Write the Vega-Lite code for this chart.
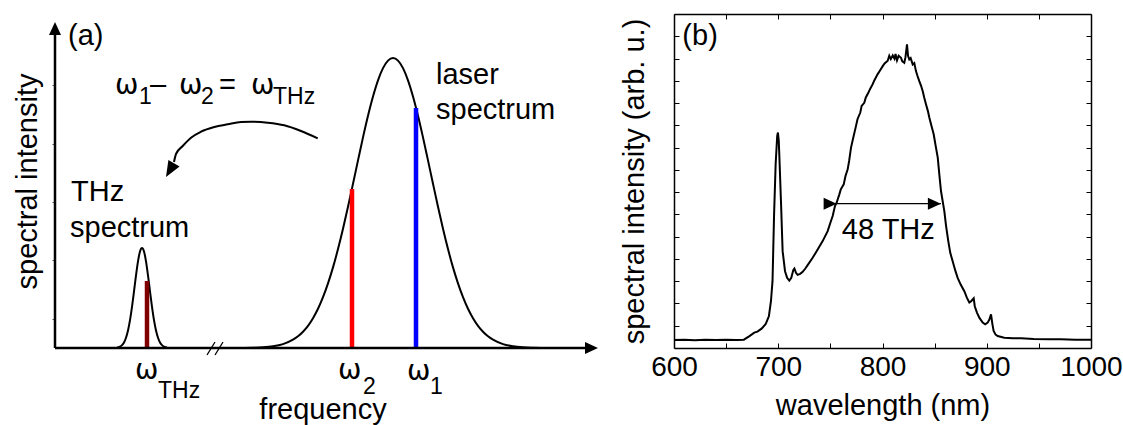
{
  "$schema": "https://vega.github.io/schema/vega-lite/v6.json",
  "padding": {"left": 13, "top": 13, "right": 0, "bottom": 0},
  "spacing": 22,
  "config": {
    "font": "Liberation Sans",
    "view": {"stroke": null},
    "axis": {"labelFont": "Liberation Sans", "titleFont": "Liberation Sans", "titleFontWeight": "normal", "labelColor": "black", "titleColor": "black", "domainColor": "black", "tickColor": "black", "grid": false}
  },
  "datasets": {
    "curves": [
      {"f": 62, "i": 0.4, "c": "thz"}, {"f": 65, "i": 1.4, "c": "thz"}, {"f": 67, "i": 2.9, "c": "thz"}, {"f": 69, "i": 5.6, "c": "thz"},
      {"f": 71, "i": 10.3, "c": "thz"}, {"f": 73, "i": 17.5, "c": "thz"}, {"f": 75, "i": 27.8, "c": "thz"}, {"f": 77, "i": 41.1, "c": "thz"},
      {"f": 79, "i": 56.6, "c": "thz"}, {"f": 81, "i": 72.6, "c": "thz"}, {"f": 83, "i": 86.7, "c": "thz"}, {"f": 85, "i": 96.5, "c": "thz"},
      {"f": 87, "i": 100, "c": "thz"}, {"f": 89, "i": 96.5, "c": "thz"}, {"f": 91, "i": 86.7, "c": "thz"}, {"f": 93, "i": 72.6, "c": "thz"},
      {"f": 95, "i": 56.6, "c": "thz"}, {"f": 97, "i": 41.1, "c": "thz"}, {"f": 99, "i": 27.8, "c": "thz"}, {"f": 101, "i": 17.5, "c": "thz"},
      {"f": 103, "i": 10.3, "c": "thz"}, {"f": 105, "i": 5.6, "c": "thz"}, {"f": 107, "i": 2.9, "c": "thz"}, {"f": 109, "i": 1.4, "c": "thz"},
      {"f": 112, "i": 0.4, "c": "thz"},
      {"f": 178, "i": 0, "c": "laser"}, {"f": 198, "i": 0.3, "c": "laser"}, {"f": 208, "i": 0.7, "c": "laser"}, {"f": 218, "i": 1.7, "c": "laser"},
      {"f": 228, "i": 3.9, "c": "laser"}, {"f": 238, "i": 8.3, "c": "laser"}, {"f": 243, "i": 11.7, "c": "laser"}, {"f": 248, "i": 16.3, "c": "laser"},
      {"f": 253, "i": 22.2, "c": "laser"}, {"f": 258, "i": 29.8, "c": "laser"}, {"f": 263, "i": 39.2, "c": "laser"}, {"f": 268, "i": 50.8, "c": "laser"},
      {"f": 273, "i": 64.6, "c": "laser"}, {"f": 278, "i": 80.6, "c": "laser"}, {"f": 283, "i": 98.9, "c": "laser"}, {"f": 288, "i": 119.2, "c": "laser"},
      {"f": 293, "i": 141.2, "c": "laser"}, {"f": 298, "i": 164.2, "c": "laser"}, {"f": 303, "i": 187.6, "c": "laser"}, {"f": 308, "i": 210.6, "c": "laser"},
      {"f": 313, "i": 232.2, "c": "laser"}, {"f": 318, "i": 251.5, "c": "laser"}, {"f": 323, "i": 267.7, "c": "laser"}, {"f": 328, "i": 279.9, "c": "laser"},
      {"f": 333, "i": 287.4, "c": "laser"}, {"f": 338, "i": 290, "c": "laser"}, {"f": 343, "i": 287.4, "c": "laser"}, {"f": 348, "i": 279.9, "c": "laser"},
      {"f": 353, "i": 267.7, "c": "laser"}, {"f": 358, "i": 251.5, "c": "laser"}, {"f": 363, "i": 232.2, "c": "laser"}, {"f": 368, "i": 210.6, "c": "laser"},
      {"f": 373, "i": 187.6, "c": "laser"}, {"f": 378, "i": 164.2, "c": "laser"}, {"f": 383, "i": 141.2, "c": "laser"}, {"f": 388, "i": 119.2, "c": "laser"},
      {"f": 393, "i": 98.9, "c": "laser"}, {"f": 398, "i": 80.6, "c": "laser"}, {"f": 403, "i": 64.6, "c": "laser"}, {"f": 408, "i": 50.8, "c": "laser"},
      {"f": 413, "i": 39.2, "c": "laser"}, {"f": 418, "i": 29.8, "c": "laser"}, {"f": 423, "i": 22.2, "c": "laser"}, {"f": 428, "i": 16.3, "c": "laser"},
      {"f": 433, "i": 11.7, "c": "laser"}, {"f": 438, "i": 8.3, "c": "laser"}, {"f": 448, "i": 3.9, "c": "laser"}, {"f": 458, "i": 1.7, "c": "laser"},
      {"f": 468, "i": 0.7, "c": "laser"}, {"f": 478, "i": 0.3, "c": "laser"}, {"f": 498, "i": 0, "c": "laser"}
    ],
    "bars": [
      {"f": 92, "i": 0, "i2": 67, "line": "thz"},
      {"f": 297, "i": 0, "i2": 159, "line": "w2"},
      {"f": 361, "i": 0, "i2": 240, "line": "w1"}
    ],
    "aAxes": [
      {"f": 0, "i": 0, "f2": 533, "i2": 0},
      {"f": 0, "i": 0, "f2": 0, "i2": 316}
    ],
    "breaks": [
      {"f": 152, "i": -7, "f2": 160, "i2": 6},
      {"f": 160, "i": -7, "f2": 168, "i2": 6}
    ],
    "bend": [
      {"f": 262.7, "i": 209.7}, {"f": 246, "i": 217}, {"f": 229.3, "i": 222.7}, {"f": 212.7, "i": 225.3},
      {"f": 196, "i": 226.3}, {"f": 186, "i": 226}, {"f": 172.7, "i": 223.7}, {"f": 159.3, "i": 221},
      {"f": 146, "i": 216.3}, {"f": 136, "i": 210.3}, {"f": 127.7, "i": 202}, {"f": 121, "i": 194}, {"f": 119, "i": 186}
    ],
    "aHeads": [
      {"f": 543, "i": 0, "h": "right"},
      {"f": 0, "i": 326, "h": "up"},
      {"f": 111, "i": 171, "h": "bend"}
    ],
    "aMain": [
      {"f": 13, "i": 303, "t": "(a)"},
      {"f": 95, "i": 254, "t": "–"}, {"f": 164, "i": 254, "t": "="},
      {"f": 16, "i": 147, "t": "THz"}, {"f": 15, "i": 111, "t": "spectrum"},
      {"f": 381, "i": 264, "t": "laser"}, {"f": 381, "i": 229, "t": "spectrum"}
    ],
    "aOmega": [
      {"f": 60, "i": 254, "t": "ω"}, {"f": 124, "i": 254, "t": "ω"}, {"f": 196, "i": 254, "t": "ω"},
      {"f": 80, "i": -31, "t": "ω"}, {"f": 283, "i": -31, "t": "ω"}, {"f": 352, "i": -32, "t": "ω"}
    ],
    "aSub": [
      {"f": 84, "i": 244, "t": "1"}, {"f": 146, "i": 244, "t": "2"}, {"f": 218, "i": 244, "t": "THz"},
      {"f": 103, "i": -50, "t": "THz"}, {"f": 308, "i": -46, "t": "2"}, {"f": 375, "i": -46, "t": "1"}
    ],
    "aTitle": [
      {"f": 268, "i": -71, "t": "frequency"}
    ],
    "spec": [
      {"wl": 600, "val": 2.4}, {"wl": 610, "val": 2.5}, {"wl": 620, "val": 2.3}, {"wl": 630, "val": 2.5}, {"wl": 640, "val": 2.4},
      {"wl": 650, "val": 2.5}, {"wl": 660, "val": 2.4}, {"wl": 667, "val": 2.5}, {"wl": 672, "val": 3.5}, {"wl": 677, "val": 4.6},
      {"wl": 680, "val": 4.9}, {"wl": 684, "val": 5.8}, {"wl": 688, "val": 7.2}, {"wl": 691, "val": 9.5}, {"wl": 693, "val": 14},
      {"wl": 694.5, "val": 20}, {"wl": 696, "val": 40}, {"wl": 697.5, "val": 55}, {"wl": 699, "val": 63.5}, {"wl": 699.7, "val": 64.5},
      {"wl": 700.5, "val": 62}, {"wl": 701, "val": 58}, {"wl": 702.6, "val": 44}, {"wl": 704.2, "val": 29}, {"wl": 706.5, "val": 23},
      {"wl": 708.5, "val": 21}, {"wl": 710.6, "val": 20.2}, {"wl": 712.5, "val": 21}, {"wl": 714.5, "val": 23.4}, {"wl": 715.5, "val": 23.8},
      {"wl": 717, "val": 22.5}, {"wl": 718.6, "val": 21.9}, {"wl": 721, "val": 22.2}, {"wl": 723.4, "val": 22.8}, {"wl": 726, "val": 23.8},
      {"wl": 728.2, "val": 24.8}, {"wl": 733, "val": 27}, {"wl": 737.8, "val": 29.5}, {"wl": 742.6, "val": 32}, {"wl": 747.4, "val": 35},
      {"wl": 750, "val": 37.5}, {"wl": 752.2, "val": 39.5}, {"wl": 754.4, "val": 42.5}, {"wl": 756, "val": 43.5}, {"wl": 758.6, "val": 46},
      {"wl": 760, "val": 47.5}, {"wl": 762.8, "val": 49}, {"wl": 764.5, "val": 51.5}, {"wl": 766.6, "val": 53.5}, {"wl": 768, "val": 56},
      {"wl": 769.8, "val": 60}, {"wl": 772, "val": 63}, {"wl": 774.6, "val": 66.5}, {"wl": 776, "val": 68.5}, {"wl": 778.7, "val": 70.5},
      {"wl": 780, "val": 72.5}, {"wl": 782.5, "val": 73.4}, {"wl": 784, "val": 75}, {"wl": 786.4, "val": 76.4}, {"wl": 788, "val": 77.5},
      {"wl": 790.6, "val": 79}, {"wl": 792, "val": 80}, {"wl": 795.4, "val": 82}, {"wl": 797, "val": 82.8}, {"wl": 800.2, "val": 84.4},
      {"wl": 802, "val": 85.2}, {"wl": 805, "val": 86}, {"wl": 806.5, "val": 87.5}, {"wl": 808, "val": 86.5}, {"wl": 809.8, "val": 87.6},
      {"wl": 811.5, "val": 86.6}, {"wl": 812.5, "val": 88}, {"wl": 813.9, "val": 86.1}, {"wl": 815.5, "val": 87.5}, {"wl": 817.7, "val": 86.9},
      {"wl": 819, "val": 85.8}, {"wl": 820.9, "val": 85.4}, {"wl": 822, "val": 87}, {"wl": 823.5, "val": 90.9}, {"wl": 824.5, "val": 87.5},
      {"wl": 825.7, "val": 86.4}, {"wl": 827, "val": 86.8}, {"wl": 829, "val": 84.9}, {"wl": 830.5, "val": 85.3}, {"wl": 832.1, "val": 82.9},
      {"wl": 833.5, "val": 81.5}, {"wl": 835.3, "val": 79.9}, {"wl": 837, "val": 78.5}, {"wl": 838.6, "val": 76.9}, {"wl": 840, "val": 75},
      {"wl": 841.7, "val": 73}, {"wl": 843.5, "val": 71}, {"wl": 844.9, "val": 69}, {"wl": 847, "val": 66.5}, {"wl": 849.1, "val": 64},
      {"wl": 851, "val": 60.5}, {"wl": 853, "val": 57}, {"wl": 854.5, "val": 52}, {"wl": 856.1, "val": 47}, {"wl": 859.3, "val": 41},
      {"wl": 861, "val": 36.5}, {"wl": 863.1, "val": 32}, {"wl": 865, "val": 28.5}, {"wl": 867.3, "val": 26}, {"wl": 870, "val": 23},
      {"wl": 872.1, "val": 21}, {"wl": 875, "val": 19}, {"wl": 878.5, "val": 17}, {"wl": 881, "val": 15}, {"wl": 883.3, "val": 13.6},
      {"wl": 885, "val": 14}, {"wl": 887.5, "val": 14.9}, {"wl": 888.5, "val": 12.5}, {"wl": 890.6, "val": 10.6}, {"wl": 893, "val": 9},
      {"wl": 896.1, "val": 7.6}, {"wl": 898.5, "val": 7.1}, {"wl": 900.9, "val": 7.6}, {"wl": 902.5, "val": 8.5}, {"wl": 904.1, "val": 10.1},
      {"wl": 905.5, "val": 7}, {"wl": 906.6, "val": 5.1}, {"wl": 908.5, "val": 4}, {"wl": 910.5, "val": 3.6}, {"wl": 916.8, "val": 3.1},
      {"wl": 925, "val": 2.9}, {"wl": 933, "val": 2.9}, {"wl": 945, "val": 2.7}, {"wl": 960, "val": 2.6}, {"wl": 971, "val": 2.6},
      {"wl": 985, "val": 2.5}, {"wl": 1000, "val": 2.5}
    ],
    "fwhm": [{"wl": 756, "wl2": 856, "val": 43.2}],
    "bHeads": [{"wl": 756, "val": 43.2, "h": "left"}, {"wl": 856, "val": 43.2, "h": "right"}],
    "bText": [{"wl": 608, "val": 90.7, "t": "(b)"}, {"wl": 761, "val": 32.5, "t": "48 THz"}]
  },
  "hconcat": [
    {
      "width": 543,
      "height": 334,
      "layer": [
        {
          "data": {"name": "curves"},
          "mark": {"type": "line", "color": "black", "strokeWidth": 2, "interpolate": "monotone"},
          "encoding": {
            "x": {"field": "f", "type": "quantitative", "scale": {"domain": [0, 543], "nice": false, "zero": false}, "axis": null},
            "y": {"field": "i", "type": "quantitative", "scale": {"domain": [0, 334], "nice": false, "zero": false},
                  "axis": {"title": "spectral intensity", "titleFontSize": 29, "titlePadding": 9, "labels": false, "domain": false, "ticks": true, "tickSize": 3, "tickColor": "#555",
                           "values": [29.2, 58.4, 87.6, 116.8, 146, 175.2, 204.4, 233.6, 262.8, 292]}},
            "detail": {"field": "c"}
          }
        },
        {
          "data": {"name": "bars"},
          "mark": {"type": "rule", "strokeWidth": 4.5},
          "encoding": {
            "x": {"field": "f", "type": "quantitative", "axis": null},
            "y": {"field": "i", "type": "quantitative"},
            "y2": {"field": "i2"},
            "color": {"field": "line", "type": "nominal", "scale": {"domain": ["thz", "w2", "w1"], "range": ["#800000", "#ff0000", "#0000ff"]}, "legend": null}
          }
        },
        {
          "data": {"name": "aAxes"},
          "mark": {"type": "rule", "strokeWidth": 2.5, "color": "black"},
          "encoding": {
            "x": {"field": "f", "type": "quantitative", "axis": null},
            "x2": {"field": "f2"},
            "y": {"field": "i", "type": "quantitative"},
            "y2": {"field": "i2"}
          }
        },
        {
          "data": {"name": "breaks"},
          "mark": {"type": "rule", "strokeWidth": 1.3, "color": "black"},
          "encoding": {
            "x": {"field": "f", "type": "quantitative", "axis": null},
            "x2": {"field": "f2"},
            "y": {"field": "i", "type": "quantitative"},
            "y2": {"field": "i2"}
          }
        },
        {
          "data": {"name": "bend"},
          "mark": {"type": "line", "color": "black", "strokeWidth": 2, "interpolate": "monotone"},
          "encoding": {
            "x": {"field": "f", "type": "quantitative", "axis": null},
            "y": {"field": "i", "type": "quantitative"}
          }
        },
        {
          "data": {"name": "aHeads"},
          "mark": {"type": "point", "filled": true, "size": 4, "color": "black", "opacity": 1, "strokeWidth": 0},
          "encoding": {
            "x": {"field": "f", "type": "quantitative", "axis": null},
            "y": {"field": "i", "type": "quantitative"},
            "shape": {"field": "h", "type": "nominal", "legend": null,
                      "scale": {"domain": ["right", "up", "bend"], "range": ["M0,0L-13,-6L-13,6Z", "M0,0L-6,13L6,13Z", "M0,0L13.6,-10.6L2.4,-17.1Z"]}}
          }
        },
        {
          "data": {"name": "aMain"},
          "mark": {"type": "text", "align": "left", "baseline": "alphabetic", "fontSize": 29, "color": "black"},
          "encoding": {
            "x": {"field": "f", "type": "quantitative", "axis": null},
            "y": {"field": "i", "type": "quantitative"},
            "text": {"field": "t"}
          }
        },
        {
          "data": {"name": "aOmega"},
          "mark": {"type": "text", "align": "left", "baseline": "alphabetic", "fontSize": 28, "font": "DejaVu Sans", "color": "black"},
          "encoding": {
            "x": {"field": "f", "type": "quantitative", "axis": null},
            "y": {"field": "i", "type": "quantitative"},
            "text": {"field": "t"}
          }
        },
        {
          "data": {"name": "aSub"},
          "mark": {"type": "text", "align": "left", "baseline": "alphabetic", "fontSize": 23, "color": "black"},
          "encoding": {
            "x": {"field": "f", "type": "quantitative", "axis": null},
            "y": {"field": "i", "type": "quantitative"},
            "text": {"field": "t"}
          }
        },
        {
          "data": {"name": "aTitle"},
          "mark": {"type": "text", "align": "center", "baseline": "alphabetic", "fontSize": 29, "color": "black"},
          "encoding": {
            "x": {"field": "f", "type": "quantitative", "axis": null},
            "y": {"field": "i", "type": "quantitative"},
            "text": {"field": "t"}
          }
        }
      ]
    },
    {
      "width": 417,
      "height": 334,
      "resolve": {"axis": {"x": "independent", "y": "independent"}},
      "layer": [
        {
          "data": {"name": "spec"},
          "mark": {"type": "line", "color": "black", "strokeWidth": 2},
          "encoding": {
            "x": {"field": "wl", "type": "quantitative", "scale": {"domain": [600, 1000], "nice": false, "zero": false},
                  "axis": {"title": "wavelength (nm)", "titleFontSize": 29, "titlePadding": 10, "labelFontSize": 28, "labelPadding": 10, "tickSize": -5, "format": "d",
                           "values": [600, 650, 700, 750, 800, 850, 900, 950, 1000], "labelExpr": "datum.value % 100 === 0 ? datum.label : ''",
                           "domainWidth": 1.5, "labelFlush": false, "labelOverlap": false}},
            "y": {"field": "val", "type": "quantitative", "scale": {"domain": [0, 100], "nice": false, "zero": false},
                  "axis": {"title": "spectral intensity (arb. u.)", "titleFontSize": 29, "titlePadding": 24, "labels": false, "tickSize": -5, "domainWidth": 1.5,
                           "values": [6.667, 13.333, 20, 26.667, 33.333, 40, 46.667, 53.333, 60, 66.667, 73.333, 80, 86.667, 93.333]}}
          }
        },
        {
          "data": {"name": "spec"},
          "mark": {"type": "point", "opacity": 0},
          "encoding": {
            "x": {"field": "wl", "type": "quantitative",
                  "axis": {"orient": "top", "title": null, "labels": false, "tickSize": -5, "domainWidth": 1.5, "values": [600, 650, 700, 750, 800, 850, 900, 950, 1000]}},
            "y": {"field": "val", "type": "quantitative",
                  "axis": {"orient": "right", "title": null, "labels": false, "tickSize": -5, "domainWidth": 1.5,
                           "values": [6.667, 13.333, 20, 26.667, 33.333, 40, 46.667, 53.333, 60, 66.667, 73.333, 80, 86.667, 93.333]}}
          }
        },
        {
          "data": {"name": "fwhm"},
          "mark": {"type": "rule", "strokeWidth": 1.2, "color": "black"},
          "encoding": {
            "x": {"field": "wl", "type": "quantitative", "axis": null},
            "x2": {"field": "wl2"},
            "y": {"field": "val", "type": "quantitative", "axis": null}
          }
        },
        {
          "data": {"name": "bHeads"},
          "mark": {"type": "point", "filled": true, "size": 4, "color": "black", "opacity": 1, "strokeWidth": 0},
          "encoding": {
            "x": {"field": "wl", "type": "quantitative", "axis": null},
            "y": {"field": "val", "type": "quantitative", "axis": null},
            "shape": {"field": "h", "type": "nominal", "legend": null,
                      "scale": {"domain": ["left", "right"], "range": ["M0,0L14,-3.5L14,3.5Z", "M0,0L-14,-3.5L-14,3.5Z"]}}
          }
        },
        {
          "data": {"name": "bText"},
          "mark": {"type": "text", "align": "left", "baseline": "alphabetic", "fontSize": 29, "color": "black"},
          "encoding": {
            "x": {"field": "wl", "type": "quantitative", "axis": null},
            "y": {"field": "val", "type": "quantitative", "axis": null},
            "text": {"field": "t"}
          }
        }
      ]
    }
  ]
}
